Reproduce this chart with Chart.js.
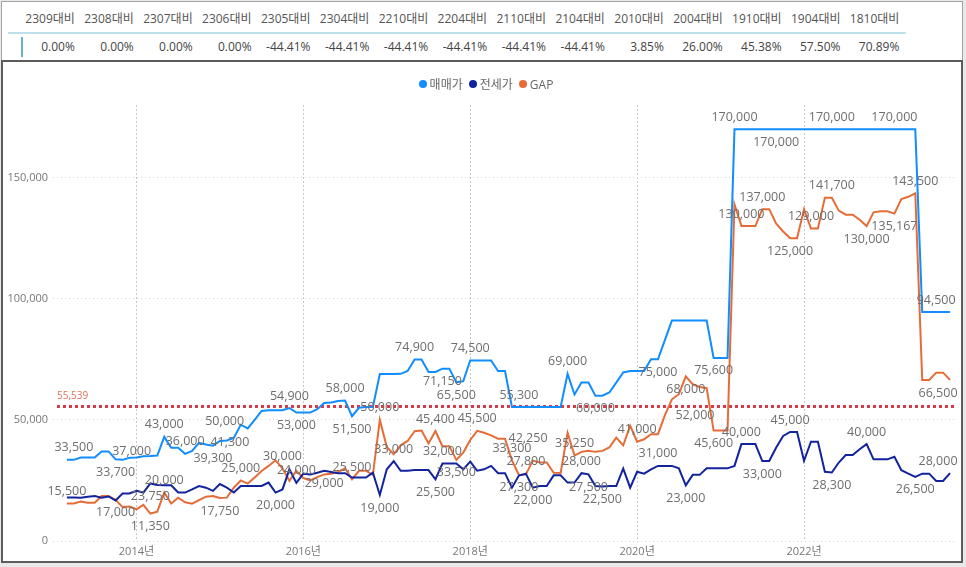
<!DOCTYPE html>
<html lang="ko">
<head>
  <meta charset="UTF-8" />
  <title>매매가 · 전세가 · GAP</title>
  <script src="https://cdn.jsdelivr.net/npm/chart.js"></script>
  <style>
    body { margin: 0; background: #e9e9e9; font-family: "Open Sans", "Noto Sans CJK KR", sans-serif; }
    .page { position: relative; width: 966px; height: 567px; overflow: hidden; }
    .table-box { position: absolute; left: 1px; top: 1px; width: 960px; height: 59px; background: #fff; border: 1px solid #a3a3a3; }
    .chart-box { position: absolute; left: 1px; top: 60px; width: 958px; height: 499px; background: #fff; border: 2px solid #5c5c5c; }
    .row { position: absolute; left: 16px; display: flex; font-size: 12px; line-height: 16px; }
    .row span { width: 58.9px; text-align: right; white-space: nowrap; }
    #headRow { top: 11px; color: #555; }
    #valueRow { top: 39px; color: #444; }
    .sep { position: absolute; left: 8px; top: 32px; width: 898px; height: 2px; background: #bedfec; }
    .marker { position: absolute; left: 21px; top: 37px; width: 2px; height: 20px; background: #6aaed6; }
    #legend { position: absolute; left: 0; top: 75px; width: 972px; display: flex; justify-content: center; gap: 6px; font-size: 12px; color: #666; z-index: 2; }
    #legend div { display: flex; align-items: center; gap: 3px; }
    #legend i { width: 8px; height: 8px; border-radius: 50%; display: inline-block; }
    #chart { position: absolute; left: 0; top: 63px; z-index: 1; }
  </style>
</head>
<body>
<div class="page">
  <div class="table-box"></div>
  <div class="row" id="headRow"></div>
  <div class="sep"></div>
  <div class="marker"></div>
  <div class="row" id="valueRow"></div>

  <div class="chart-box"></div>
  <div id="legend"></div>
  <canvas id="chart" width="966" height="500"></canvas>
</div>

<script>
  // 비교 테이블
  const compareHeads = ["2309대비", "2308대비", "2307대비", "2306대비", "2305대비", "2304대비", "2210대비", "2204대비",
                        "2110대비", "2104대비", "2010대비", "2004대비", "1910대비", "1904대비", "1810대비"];
  const compareValues = ["0.00%", "0.00%", "0.00%", "0.00%", "-44.41%", "-44.41%", "-44.41%", "-44.41%",
                         "-44.41%", "-44.41%", "3.85%", "26.00%", "45.38%", "57.50%", "70.89%"];

  // 월별 시세 (2013-03 ~ 2023-10)
  const firstMonth = "2013-03";
  const monthCount = 128;

  const salePrice = [
    33500, 33500, 34500, 34500, 34500, 37000, 37000, 33700, 33500, 34400,                       // 2013
    34500, 35000, 35100, 35300, 43000, 38500, 38500, 36000, 37200, 40500, 39800, 39300,         // 2014
    41300, 41500, 42500, 48000, 46500, 50000, 53700, 54000, 54000, 54000, 54900, 53000,         // 2015
    53000, 53000, 54400, 57000, 57200, 57800, 58000, 51500, 55000, 55300, 55300, 68900,         // 2016
    68900, 68900, 69000, 70200, 74900, 74900, 69800, 69800, 71150, 71150, 65500, 66000,         // 2017
    74500, 74500, 74500, 74500, 70200, 70200, 55300, 55300, 55300, 55300, 55300, 55300,         // 2018
    55300, 55300, 69000, 60500, 65400, 65400, 60000, 60000, 61300, 65400, 69600, 70200,         // 2019
    70200, 70200, 75000, 75000, 83000, 91000, 91000, 91000, 91000, 91000, 91000, 75600,         // 2020
    75600, 75600, 170000, 170000, 170000, 170000, 170000, 170000, 170000, 170000, 170000, 170000, // 2021
    170000, 170000, 170000, 170000, 170000, 170000, 170000, 170000, 170000, 170000, 170000, 170000, // 2022
    170000, 170000, 170000, 170000, 170000, 94500, 94500, 94500, 94500, 94500                   // 2023
  ];
  const jeonsePrice = [
    18000, 18000, 17900, 18300, 18600, 17900, 18400, 16700, 19600, 19600,
    20700, 20000, 23750, 23100, 23000, 23000, 20000, 20000, 21300, 22700, 22000, 20700,
    23500, 22000, 20000, 22700, 22700, 22700, 22700, 24100, 20000, 21300, 29600, 24000,
    27800, 27500, 28200, 29000, 28500, 28000, 28000, 26200, 26200, 26200, 28200, 19000,
    29600, 33000, 29000, 29000, 29300, 29300, 29300, 25500, 32000, 32000, 32000, 29600,
    32800, 29000, 29600, 31000, 28000, 28000, 22000, 27000, 27800, 22000, 22700, 22700,
    27100, 27100, 24100, 24100, 28000, 27500, 22700, 22500, 22700, 22700, 29900, 22000,
    28600, 27800, 29600, 31000, 31000, 31000, 30000, 23000, 27300, 27300, 30000, 30000,
    30000, 30000, 31000, 40000, 40000, 40000, 33000, 33000, 38600, 43400, 45000, 45000,
    33100, 41000, 41000, 28600, 28300, 32400, 35500, 35500, 37900, 40000, 33700, 33700,
    33700, 34800, 29200, 27800, 26500, 27800, 27800, 24800, 24800, 28000
  ];
  const gapPrice = [
    15500, 15500, 16300, 15800, 15800, 18600, 18600, 17000, 14000, 14200,
    13100, 14900, 11350, 12100, 20000, 15500, 17900, 16000, 15400, 16900, 18300, 18600,
    17750, 17900, 22000, 25000, 23700, 26200, 28900, 31000, 33300, 30000, 24800, 29000,
    26000, 25000, 26400, 27500, 27800, 28500, 30000, 25500, 29000, 29000, 27300, 50000,
    38800, 35800, 39500, 41300, 45300, 45600, 40300, 45400, 39150, 39150, 33500, 36500,
    41700, 45500, 44700, 43600, 42250, 42200, 33300, 27300, 27500, 33200, 32400, 32400,
    28200, 28100, 44700, 35250, 36800, 37300, 36800, 37200, 38600, 42700, 39500, 47600,
    41000, 42000, 44100, 44100, 52000, 58500, 60600, 68000, 64700, 63600, 63100, 45600,
    45600, 45600, 139000, 130000, 130000, 130000, 137000, 137000, 131000, 127800, 125000, 125000,
    137000, 129000, 129000, 141700, 141700, 136400, 134700, 134700, 132600, 130000, 135700, 136100,
    136100, 135167, 141200, 142100, 143500, 66500, 66500, 69500, 69500, 66500
  ];

  const averageLine = 55539;
  const yearTicks = ["2014-01", "2016-01", "2018-01", "2020-01", "2022-01"];
  const valueTicks = [0, 50000, 100000, 150000];

  const seriesNames = ["매매가", "전세가", "GAP"];
  const seriesColors = ["#118DFF", "#12239E", "#E66C37"];

  // 값 라벨을 보여줄 지점 [계열, 월, 위치]
  const shownLabels = [
    [0, "2013-04", "a"], [0, "2013-08", "r"], [0, "2013-10", "b"], [0, "2014-05", "a"], [0, "2014-08", "a"],
    [0, "2014-12", "b"], [0, "2015-01", "n"], [0, "2015-06", "l"], [0, "2015-11", "a"], [0, "2015-12", "b"],
    [0, "2016-07", "a"], [0, "2016-08", "b"], [0, "2017-05", "a"], [0, "2017-09", "b"], [0, "2017-11", "b"],
    [0, "2018-01", "a"], [0, "2018-08", "a"], [0, "2019-03", "a"], [0, "2019-07", "b"], [0, "2020-04", "b"],
    [0, "2020-12", "b"], [0, "2021-03", "a"], [0, "2021-09", "b"], [0, "2022-05", "a"], [0, "2023-02", "a"],
    [0, "2023-08", "a"],
    [1, "2014-03", "b"], [1, "2015-09", "b"], [1, "2015-12", "a"], [1, "2016-04", "b"], [1, "2016-12", "b"],
    [1, "2017-02", "a"], [1, "2017-08", "b"], [1, "2017-09", "a"], [1, "2018-09", "a"], [1, "2018-10", "b"],
    [1, "2019-05", "a"], [1, "2019-06", "b"], [1, "2019-08", "b"], [1, "2020-04", "a"], [1, "2020-08", "b"],
    [1, "2021-04", "a"], [1, "2021-07", "b"], [1, "2021-11", "a"], [1, "2022-05", "b"], [1, "2022-10", "a"],
    [1, "2023-05", "b"], [1, "2023-10", "al"],
    [2, "2013-03", "a"], [2, "2013-10", "b"], [2, "2014-03", "b"], [2, "2014-05", "a"], [2, "2015-01", "b"],
    [2, "2015-04", "a"], [2, "2015-10", "a"], [2, "2016-08", "a"], [2, "2016-12", "a"], [2, "2017-08", "a"],
    [2, "2017-11", "b"], [2, "2018-02", "a"], [2, "2018-05", "r"], [2, "2018-07", "a"], [2, "2018-08", "b"],
    [2, "2019-04", "a"], [2, "2020-01", "a"], [2, "2020-05", "r"], [2, "2020-08", "b"], [2, "2020-12", "b"],
    [2, "2021-04", "a"], [2, "2021-07", "a"], [2, "2021-11", "b"], [2, "2022-02", "a"], [2, "2022-05", "a"],
    [2, "2022-10", "b"], [2, "2023-02", "b"], [2, "2023-05", "a"], [2, "2023-10", "bl"]
  ];
  const labelOffsets = {
    a: [0, -12], b: [0, 13], r: [30, 0], l: [-30, 2], n: [10, 1], al: [-12, -12], bl: [-12, 14]
  };

  // 테이블
  document.getElementById("headRow").innerHTML = compareHeads.map(t => `<span>${t}</span>`).join("");
  document.getElementById("valueRow").innerHTML = compareValues.map(t => `<span>${t}</span>`).join("");

  // 범례
  document.getElementById("legend").innerHTML = seriesNames
    .map((n, i) => `<div><i style="background:${seriesColors[i]}"></i>${n}</div>`).join("");

  // 월 → 축 위치 (2013-01 = 0)
  const monthIndex = s => (Number(s.slice(0, 4)) - 2013) * 12 + Number(s.slice(5, 7)) - 1;
  const startIdx = monthIndex(firstMonth);
  const months = [];
  for (let k = 0; k < monthCount; k++) {
    const m = startIdx + k;
    months.push(`${2013 + Math.floor(m / 12)}-${String(m % 12 + 1).padStart(2, "0")}`);
  }
  const toPoints = arr => arr.map((v, i) => ({ x: monthIndex(months[i]), y: v }));

  const fmt = v => Number(v).toLocaleString("en-US");
  const FONT = '"Open Sans", "Noto Sans CJK KR", sans-serif';

  const averagePlugin = {
    id: "averageLine",
    beforeDatasetsDraw(chart) {
      const { ctx, chartArea, scales } = chart;
      const y = scales.y.getPixelForValue(averageLine);
      ctx.save();
      ctx.strokeStyle = "#d63a45";
      ctx.lineWidth = 3;
      ctx.setLineDash([3, 3]);
      ctx.beginPath();
      ctx.moveTo(chartArea.left + 4, y);
      ctx.lineTo(chartArea.right, y);
      ctx.stroke();
      ctx.setLineDash([]);
      ctx.fillStyle = "#e0705a";
      ctx.font = "10px " + FONT;
      ctx.textAlign = "left";
      ctx.textBaseline = "middle";
      ctx.fillText(fmt(averageLine), chartArea.left + 4, y - 10);
      ctx.restore();
    }
  };

  const pointLabelPlugin = {
    id: "pointLabels",
    afterDatasetsDraw(chart) {
      const { ctx } = chart;
      ctx.save();
      ctx.font = "12.5px " + FONT;
      ctx.fillStyle = "#6e6e6e";
      ctx.textAlign = "center";
      ctx.textBaseline = "middle";
      shownLabels.forEach(([ds, month, pos]) => {
        const i = months.indexOf(month);
        const el = chart.getDatasetMeta(ds).data[i];
        const [dx, dy] = labelOffsets[pos];
        ctx.fillText(fmt(chart.data.datasets[ds].data[i].y), el.x + dx, el.y + dy);
      });
      ctx.restore();
    }
  };

  new Chart(document.getElementById("chart"), {
    type: "line",
    data: {
      datasets: [salePrice, jeonsePrice, gapPrice].map((arr, i) => ({
        label: seriesNames[i],
        data: toPoints(arr),
        borderColor: seriesColors[i],
        backgroundColor: seriesColors[i],
        borderWidth: 2,
        pointRadius: 0,
        tension: 0
      }))
    },
    options: {
      responsive: false,
      animation: false,
      layout: { padding: { left: 0, right: 9, top: 42, bottom: 0 } },
      plugins: { legend: { display: false }, tooltip: { enabled: false } },
      scales: {
        x: {
          type: "linear",
          min: 0,
          max: 130,
          afterBuildTicks: s => { s.ticks = yearTicks.map(t => ({ value: monthIndex(t) })); },
          afterFit: s => { s.height = 22; },
          ticks: {
            callback: v => `${2013 + Math.floor(v / 12)}년`,
            color: "#777",
            font: { size: 11, family: FONT },
            padding: 4,
            maxRotation: 0
          },
          grid: { color: "#c8c8c8", drawTicks: false },
          border: { display: false, dash: [2, 2] }
        },
        y: {
          min: 0,
          max: 180000,
          afterBuildTicks: s => { s.ticks = valueTicks.map(v => ({ value: v })); },
          afterFit: s => { s.width = 53; },
          ticks: {
            callback: v => fmt(v),
            color: "#777",
            font: { size: 11, family: FONT },
            padding: 5
          },
          grid: { color: "#d6d6d6", drawTicks: false },
          border: { display: false, dash: [1, 3] }
        }
      }
    },
    plugins: [averagePlugin, pointLabelPlugin]
  });
</script>
</body>
</html>
